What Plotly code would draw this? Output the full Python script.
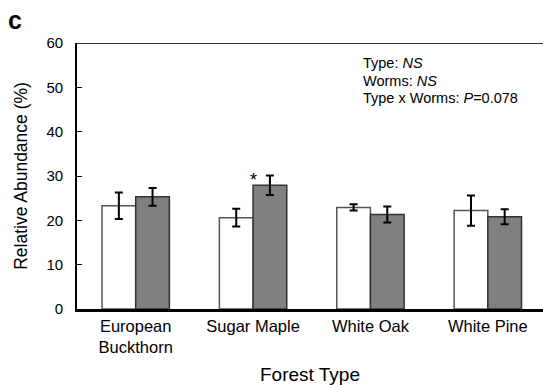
import plotly.graph_objects as go

categories = ["European<br>Buckthorn", "Sugar Maple", "White Oak", "White Pine"]
no_worms = [23.3, 20.6, 22.9, 22.2]
no_worms_err = [3.0, 2.0, 0.7, 3.4]
worms = [25.3, 27.9, 21.3, 20.8]
worms_err = [2.0, 2.2, 1.8, 1.7]
y_ticks = [0, 10, 20, 30, 40, 50, 60]
stats_lines = ["Type: <i>NS</i>", "Worms: <i>NS</i>", "Type x Worms: <i>P</i>=0.078"]

fig = go.Figure()
fig.add_trace(go.Bar(
    x=categories, y=no_worms, name="No worms",
    marker=dict(color="white", line=dict(color="#555555", width=1.5)),
    error_y=dict(type="data", array=no_worms_err, color="black", thickness=2, width=4),
))
fig.add_trace(go.Bar(
    x=categories, y=worms, name="Worms",
    marker=dict(color="#808080", line=dict(color="#333333", width=1.5)),
    error_y=dict(type="data", array=worms_err, color="black", thickness=2, width=4),
))

font = "Liberation Sans, Arial, sans-serif"
annotations = [
    dict(text="<b>c</b>", xref="paper", yref="paper", x=-0.152, y=1.085,
         xanchor="left", yanchor="middle", showarrow=False, font=dict(size=25)),
    dict(text="*", x="Sugar Maple", y=29.0, xref="x", yref="y", showarrow=False,
         font=dict(size=18), xanchor="center", yanchor="middle"),
]
for i, line in enumerate(stats_lines):
    annotations.append(dict(text=line, xref="paper", yref="paper", x=0.609,
                            y=1 - (20 + 17.5 * i) / 266, xanchor="left", yanchor="middle",
                            showarrow=False, font=dict(size=14.5)))

fig.update_layout(
    width=543, height=385,
    margin=dict(l=77, r=0, t=43, b=76),
    paper_bgcolor="white", plot_bgcolor="white",
    barmode="group", bargap=0.426, bargroupgap=0,
    showlegend=False,
    font=dict(family=font, color="black", size=15),
    xaxis=dict(range=[-0.5, 3.47], showline=True, linecolor="black", linewidth=2.5,
               ticks="", tickfont=dict(size=16.5), showgrid=False,
               title=dict(text="Forest Type", font=dict(size=19), standoff=14)),
    yaxis=dict(range=[0, 60], tickvals=y_ticks, showline=True, linecolor="black", linewidth=1.8,
               ticks="inside", ticklen=5, tickcolor="black", tickwidth=1.2,
               ticklabelstandoff=9,
               tickfont=dict(size=15), showgrid=False, zeroline=False,
               title=dict(text="Relative Abundance (%)", font=dict(size=17.5), standoff=14)),
    shapes=[dict(type="line", xref="paper", yref="y", x0=0, x1=1, y0=60, y1=60,
                 line=dict(color="#333333", width=2))],
    annotations=annotations,
)
fig.write_html("out.html", config={"displayModeBar": False},
               post_script="document.body.style.margin='0';")
